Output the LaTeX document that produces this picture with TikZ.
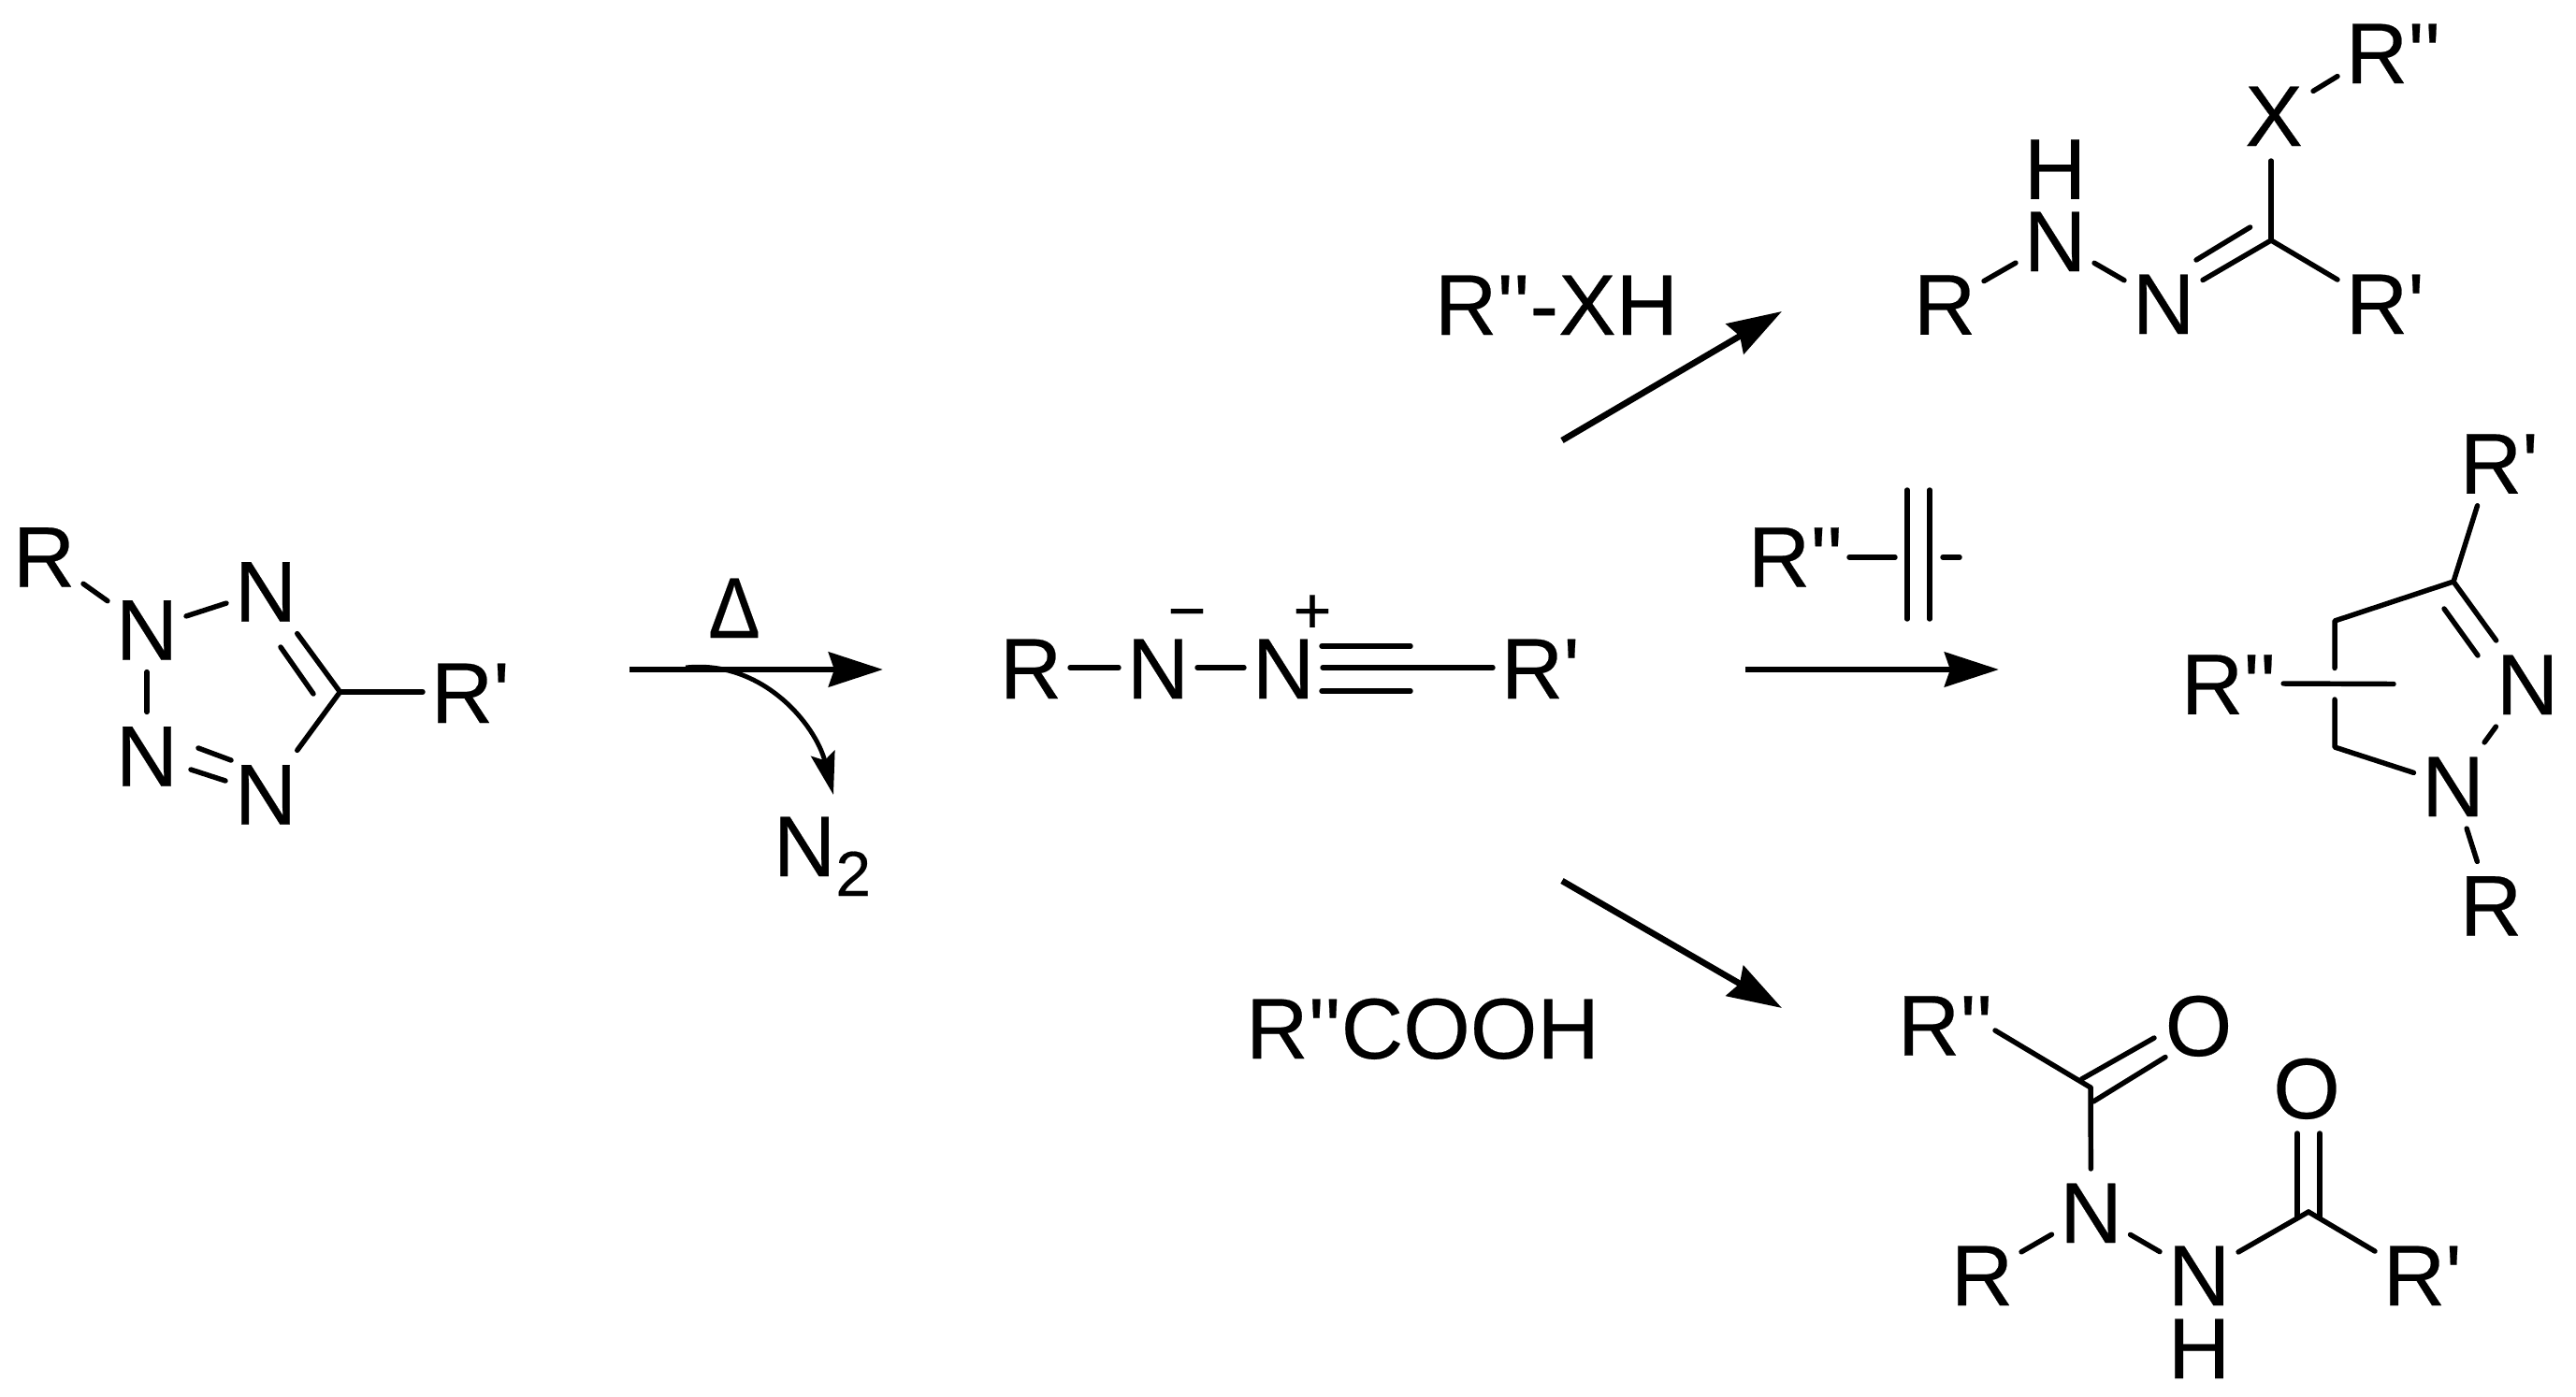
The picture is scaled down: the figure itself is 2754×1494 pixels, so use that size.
\documentclass[tikz,border=0pt]{standalone}
\usepackage{fontspec}
\usetikzlibrary{arrows.meta,calc}
\newfontfamily\chemf[FakeBold=0.25]{Liberation Sans}
\newcommand{\bigfs}{\chemf\fontsize{26.18pt}{30pt}\selectfont}
\newcommand{\smallfs}{\chemf\fontsize{20pt}{24pt}\selectfont}
\tikzset{
  x=0.01cm,y=-0.01cm,
  atom/.style={rectangle,inner sep=0pt,outer sep=0pt,minimum width=23.9pt,minimum height=26.2pt,text height=18.8pt,text depth=0pt,font=\bigfs},
  lab/.style={inner sep=0pt,outer sep=0pt,anchor=base,font=\bigfs},
  chg/.style={inner sep=0pt,outer sep=0pt,anchor=base,font=\smallfs},
  bond/.style={line width=1.55pt,line cap=round,line join=round},
  rxn/.style={line width=1.9pt,-{Stealth[length=16.5pt,width=10.5pt,inset=1.7pt]}},
  rxnc/.style={line width=1.4pt,-{Stealth[length=13pt,width=7.4pt,inset=2.2pt]}}
}
\begin{document}
\begin{tikzpicture}
\useasboundingbox (0,0) rectangle (2754,1494);
%% tetrazole
\node[atom] (tR) at (47,594.5) {R};
\node[atom] (tN2) at (157,672.5) {N};
\node[atom] (tN1) at (284,631.5) {N};
\node[atom] (tN3) at (157,807.5) {N};
\node[atom] (tN4) at (284,848.5) {N};
\node[atom] (tRp) at (494,740) {R\rlap{'}};
\coordinate (tC) at (363.5,740);
\coordinate (tia) at (300,692);
\coordinate (tib) at (335,742);
\coordinate (tda) at (212,800);
\coordinate (tdb) at (247,813);
\coordinate (tdc) at (204,823);
\coordinate (tdd) at (241,835);
\draw[bond] (tR) -- (tN2);
\draw[bond] (tN2) -- (tN1);
\draw[bond] (tN2) -- (tN3);
\draw[bond] (tN1) -- (tC);
\draw[bond] (tia) -- (tib);
\draw[bond] (tC) -- (tN4);
\draw[bond] (tC) -- (tRp);
\draw[bond] (tda) -- (tdb);
\draw[bond] (tdc) -- (tdd);
%% thermolysis arrow
\coordinate (a0s) at (673,716);
\coordinate (a0e) at (944,716);
\coordinate (a0c) at (733,714);
\coordinate (a0t) at (891,850);
\draw[rxn] (a0s) -- (a0e);
\draw[rxnc] (a0c) .. controls (815,705) and (872,775) .. (a0t);
\node[lab,xscale=0.9] (delta) at (785,682) {Δ};
\node[lab] (n2) at (879,937) {N\raisebox{-5.97pt}{\fontsize{19.3pt}{22pt}\selectfont 2}};
%% nitrile imine
\node[atom] (iR) at (1102,714) {R};
\node[atom] (iN1) at (1238,714) {N};
\node[atom] (iN2) at (1372,714) {N};
\node[atom] (iRp) at (1638,714) {R\rlap{'}};
\node[chg] (iminus) at (1269,677) {−};
\node[chg] (iplus) at (1403,677) {+};
\coordinate (ita) at (1413,691);
\coordinate (itb) at (1508,691);
\coordinate (itc) at (1413,739);
\coordinate (itd) at (1508,739);
\draw[bond] (iR) -- (iN1);
\draw[bond] (iN1) -- (iN2);
\draw[bond] (iN2) -- (iRp);
\draw[bond] (ita) -- (itb);
\draw[bond] (itc) -- (itd);
%% reaction arrows
\coordinate (a1s) at (1670,471);
\coordinate (a1e) at (1905,333);
\draw[rxn] (a1s) -- (a1e);
\coordinate (a2s) at (1866,716);
\coordinate (a2e) at (2137,716);
\draw[rxn] (a2s) -- (a2e);
\coordinate (a3s) at (1670,942);
\coordinate (a3e) at (1905,1078);
\draw[rxn] (a3s) -- (a3e);
%% reagents
\node[lab] (rg1) at (1664,358) {R''-XH};
\node[lab] (rg3) at (1521,1132) {R''COOH};
\node[lab] (rg2) at (1902,627.6) {R\rlap{''}};
\coordinate (rga) at (1977,596);
\coordinate (rgb) at (2026,596);
\coordinate (rgc) at (2039,524);
\coordinate (rgd) at (2039,662);
\coordinate (rge) at (2063,524);
\coordinate (rgf) at (2063,662);
\coordinate (rgg) at (2077,596);
\coordinate (rgh) at (2095,596);
\draw[bond] (rga) -- (rgb);
\draw[bond] (rgc) -- (rgd);
\draw[bond] (rge) -- (rgf);
\draw[bond] (rgg) -- (rgh);
%% product 1 (top)
\node[atom] (pRpp) at (2541,56) {R\rlap{''}};
\node[atom] (pX) at (2431,123) {X};
\node[atom] (pH) at (2197,179.7) {H};
\node[atom] (pN1) at (2197,257) {N};
\node[atom] (pR) at (2079,324.7) {R};
\node[atom] (pN2) at (2313,324) {N};
\node[atom] (pRp) at (2541,324) {R\rlap{'}};
\coordinate (pC) at (2428,257);
\coordinate (pXb) at (2428,172);
\coordinate (pia) at (2405.6,243);
\coordinate (pib) at (2348,278);
\draw[bond] (pX) -- (pRpp);
\draw[bond] (pC) -- (pXb);
\draw[bond] (pC) -- (pRp);
\draw[bond] (pC) -- (pN2);
\draw[bond] (pia) -- (pib);
\draw[bond] (pR) -- (pN1);
\draw[bond] (pN1) -- (pN2);
%% product 2 (pyrazole)
\node[atom] (qRp) at (2663,494.7) {R\rlap{'}};
\node[atom] (qN1) at (2702,731) {N};
\node[atom] (qN2) at (2622.5,840) {N};
\node[atom] (qR) at (2663,967.5) {R};
\node[atom] (qRpp) at (2365,730.7) {R\rlap{''}};
\coordinate (qC3) at (2623,622);
\coordinate (qC4) at (2496,664);
\coordinate (qC5) at (2496,799);
\coordinate (qva) at (2496,714.5);
\coordinate (qvb) at (2496,748);
\coordinate (qhe) at (2559,731.5);
\coordinate (qia) at (2613,651);
\coordinate (qib) at (2649,701);
\draw[bond] (qRp) -- (qC3);
\draw[bond] (qC3) -- (qC4) -- (qva);
\draw[bond] (qvb) -- (qC5) -- (qN2);
\draw[bond] (qC3) -- (qN1);
\draw[bond] (qia) -- (qib);
\draw[bond] (qN1) -- (qN2);
\draw[bond] (qN2) -- (qR);
\draw[bond,shorten <=9.7pt] (qRpp) -- (qhe);
%% product 3 (bottom)
\node[atom] (sRpp) at (2062,1095.6) {R\rlap{''}};
\node[atom] (sO1) at (2350.5,1096) {O};
\node[atom] (sO2) at (2466,1163) {O};
\node[atom] (sN1) at (2235.5,1296) {N};
\node[atom] (sR) at (2119,1363) {R};
\node[atom] (sN2) at (2351,1363) {N};
\node[atom] (sH) at (2351,1441) {H};
\node[atom] (sRp) at (2581,1363) {R\rlap{'}};
\coordinate (sC1) at (2235,1163);
\coordinate (sC2) at (2468,1296);
\coordinate (sRb) at (2133,1102);
\coordinate (sda) at (2225.5,1154);
\coordinate (sdb) at (2303,1110);
\coordinate (sdc) at (2238,1178);
\coordinate (sdd) at (2315,1130.5);
\coordinate (sea) at (2456,1212);
\coordinate (seb) at (2456,1302.5);
\coordinate (sec) at (2480,1212);
\coordinate (sed) at (2480,1302.5);
\draw[bond] (sRb) -- (sC1);
\draw[bond] (sda) -- (sdb);
\draw[bond] (sdc) -- (sdd);
\draw[bond] (sC1) -- (sN1);
\draw[bond] (sR) -- (sN1);
\draw[bond] (sN1) -- (sN2);
\draw[bond] (sN2) -- (sC2);
\draw[bond] (sC2) -- (sRp);
\draw[bond] (sea) -- (seb);
\draw[bond] (sec) -- (sed);
\end{tikzpicture}
\end{document}
